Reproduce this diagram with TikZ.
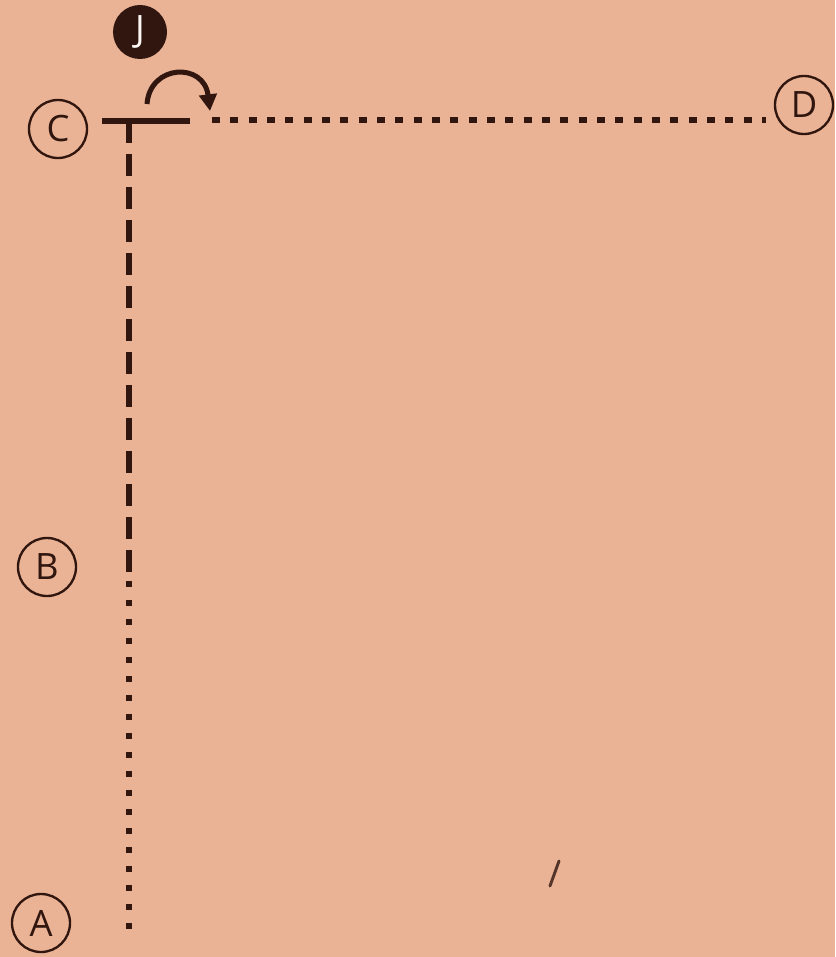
\documentclass[tikz,border=0pt]{standalone}
\usepackage{fontspec}
\setmainfont{Open Sans}
\usetikzlibrary{arrows.meta}

\definecolor{paper}{RGB}{234,179,150}
\definecolor{ink}{RGB}{48,22,14}

\begin{document}
\begin{tikzpicture}[
    x=0.03cm, y=-0.03cm,
    letter/.style={circle, draw=ink, line width=2pt, minimum size=1.74cm, inner sep=0pt,
                   text=ink, font=\fontsize{31}{31}\selectfont},
    badge/.style={circle, fill=ink, minimum size=1.62cm, inner sep=0pt,
                  text=white!90!paper, font=\fontsize{31}{31}\selectfont},
    bar/.style={ink, line width=4.3pt},
    longdash/.style={ink, line width=4.8pt, dash pattern=on 0.66cm off 0.33cm},
    dotrow/.style={ink, line width=4.6pt, dash pattern=on 0.24cm off 0.31cm},
    dotcol/.style={ink, line width=4.8pt, dash pattern=on 0.2cm off 0.37cm},
    turn/.style={ink, line width=4.3pt, -{Triangle[length=0.5cm, width=0.52cm]}}
]
    \fill[paper] (0,0) rectangle (835,957);
    \useasboundingbox (0,0) rectangle (835,957);

    \node[badge] (J) at (140,32) {J};
    \node[letter] (C) at (58,129) {C};
    \node[letter] (D) at (804,105) {D};
    \node[letter] (B) at (47,567) {B};
    \node[letter] (A) at (41,923) {A};

    \coordinate (barL) at (102,121);
    \coordinate (barR) at (190,121);
    \coordinate (tee) at (129,121);
    \coordinate (dashEnd) at (129,577);
    \coordinate (colEnd) at (129,932);
    \coordinate (rowStart) at (212,120);
    \coordinate (rowEnd) at (766,120);

    % the T and the two lines leaving it
    \draw[bar] (barL) -- (barR);
    \draw[longdash] (tee) -- (dashEnd);
    \draw[dotcol] ([yshift=-3]dashEnd) -- (colEnd);
    \draw[dotrow] (rowStart) -- (rowEnd);

    % turn over the bar
    \draw[turn] (147,104) .. controls (150,64) and (204,62) .. (210,111);

    % stray mark
    \draw[ink!80!paper, line width=2.5pt, line cap=round] (550,886) -- (559,861);
\end{tikzpicture}
\end{document}
